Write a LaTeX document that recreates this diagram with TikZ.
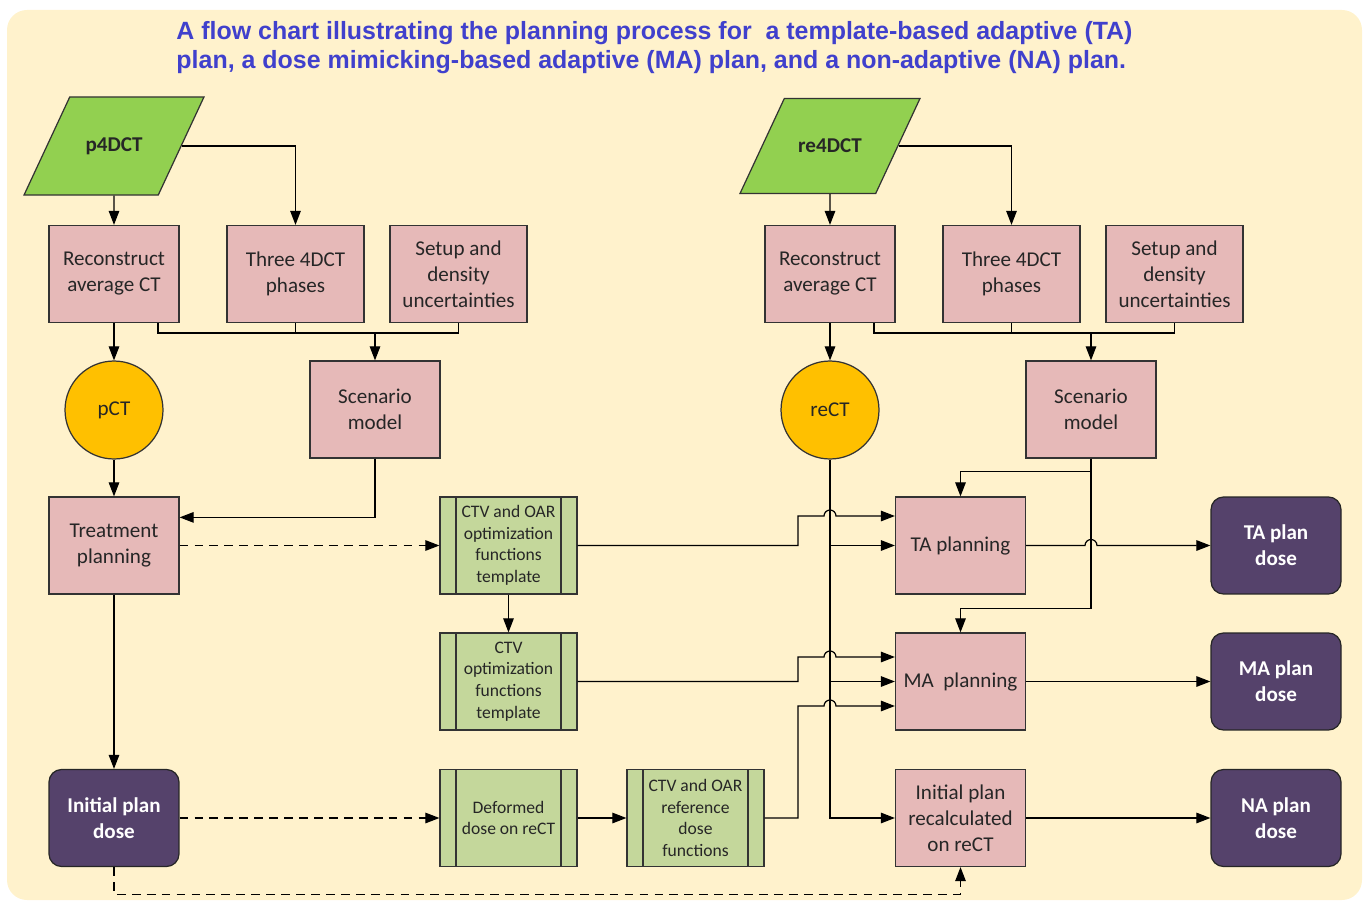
\documentclass[tikz,border=0pt]{standalone}
\usepackage{fontspec}
\setmainfont{Carlito}
\newfontfamily\headfont{Liberation Sans}
\usetikzlibrary{arrows.meta,shapes.geometric}

\definecolor{cream}{RGB}{255,242,204}
\definecolor{pinkbox}{RGB}{230,185,184}
\definecolor{greenbox}{RGB}{196,215,155}
\definecolor{inputgreen}{RGB}{146,208,80}
\definecolor{ctgold}{RGB}{255,192,0}
\definecolor{dosepurple}{RGB}{85,66,107}
\definecolor{titleblue}{RGB}{64,64,204}

\begin{document}
\begin{tikzpicture}[x=0.02cm, y=-0.02cm, >={Triangle[length=8pt,width=6pt]}, line width=0.7pt,
	every node/.style={font=\fontsize{12}{14.8}\selectfont, text=black!85, align=center},
	stepbox/.style={draw=black!80, fill=pinkbox, minimum width=2.6cm, minimum height=1.94cm, inner sep=1pt},
	widebox/.style={stepbox, minimum width=2.74cm},
	tmplbox/.style={draw=black!80, fill=greenbox, minimum width=2.74cm, minimum height=1.94cm, inner sep=1pt,
		font=\fontsize{10}{12.3}\selectfont,
		path picture={\draw[line width=0.7pt]
			([xshift=0.32cm]path picture bounding box.north west) -- ([xshift=0.32cm]path picture bounding box.south west)
			([xshift=-0.32cm]path picture bounding box.north east) -- ([xshift=-0.32cm]path picture bounding box.south east);}},
	inbox/.style={trapezium, trapezium left angle=65, trapezium right angle=115, trapezium stretches body,
		draw=black!80, fill=inputgreen, minimum width=3.6cm, inner xsep=2pt, inner ysep=0.81cm,
		font=\bfseries\fontsize{12}{14.8}\selectfont},
	ctnode/.style={circle, draw=black!80, fill=ctgold, minimum size=1.96cm, inner sep=0pt},
	dosebox/.style={rounded corners=0.25cm, draw=black!85, fill=dosepurple, text=white, minimum width=2.6cm,
		minimum height=1.94cm, font=\bfseries\fontsize{12}{14.8}\selectfont},
	hop/.style={insert path={arc[start angle=180, end angle=0, radius=0.12cm]}},
	dashline/.style={dash pattern=on 5pt off 3.5pt}]
	\useasboundingbox (0,0) rectangle (1365,902);
	\fill[cream, rounded corners=0.4cm] (7,10) rectangle (1362,900);
	\node[font=\headfont\bfseries\fontsize{14.2}{16.5}\selectfont, text=titleblue, align=left, anchor=north west] (title) at (170,15)
		{A flow chart illustrating the planning process for\ \ a template-based adaptive (TA)\\
		 plan, a dose mimicking-based adaptive (MA) plan, and a non-adaptive (NA) plan.};
	% planning CT side
	\node[inbox]   (p4dct)  at (114,146)   {p4DCT};
	\node[stepbox] (recA)   at (114,274)   {Reconstruct\\average CT};
	\node[widebox] (phaseA) at (295.5,274) {Three 4DCT\\phases};
	\node[widebox] (setupA) at (458.5,274) {Setup and\\density\\uncertainties};
	\node[stepbox] (scenA)  at (375,409.5) {Scenario\\model};
	\node[ctnode]  (pct)    at (114,410)   {pCT};
	\node[stepbox] (treat)  at (114,545.5) {Treatment\\planning};
	\node[dosebox] (initdose) at (114,818) {Initial plan\\dose};
	\node[tmplbox] (tmplA)  at (508.5,545.5) {CTV and OAR\\optimization\\functions\\template};
	\node[tmplbox] (tmplB)  at (508.5,681.5) {CTV\\optimization\\functions\\template};
	\node[tmplbox] (deform) at (508.5,818)   {Deformed\\dose on reCT};
	\node[tmplbox] (refdose) at (695.5,818)  {CTV and OAR\\reference\\dose\\functions};
	% repeat CT side
	\node[inbox]   (re4dct) at (830,146)    {re4DCT};
	\node[stepbox] (recB)   at (830,274)    {Reconstruct\\average CT};
	\node[widebox] (phaseB) at (1011.5,274) {Three 4DCT\\phases};
	\node[widebox] (setupB) at (1174.5,274) {Setup and\\density\\uncertainties};
	\node[stepbox] (scenB)  at (1091,409.5) {Scenario\\model};
	\node[ctnode]  (rect)   at (830,410)    {reCT};
	\node[stepbox] (taplan) at (960.5,545.5) {TA planning};
	\node[stepbox] (maplan) at (960.5,681.5) {MA\ \ planning};
	\node[stepbox] (naplan) at (960.5,818)   {Initial plan\\recalculated\\on reCT};
	\node[dosebox] (tadose) at (1276,545.5) {TA plan\\dose};
	\node[dosebox] (madose) at (1276,681.5) {MA plan\\dose};
	\node[dosebox] (nadose) at (1276,818)   {NA plan\\dose};
	\coordinate (busA) at (375,333);
	\coordinate (busB) at (1091,333);
	\coordinate (jog)  at (798,0);
	\coordinate (taIn) at ([yshift=0.59cm]taplan.west);
	\coordinate (maIn) at ([yshift=0.49cm]maplan.west);
	\coordinate (mbIn) at ([yshift=-0.49cm]maplan.west);
	% left connectors
	\draw[->] (p4dct) -- (recA);
	\draw[->] (p4dct.east) -| (phaseA);
	\draw ([xshift=0.88cm]recA.south) |- (busA) -| (setupA.south);
	\draw (phaseA.south) -- (phaseA.south |- busA);
	\draw[->] (busA) -- (scenA);
	\draw[->] (recA) -- (pct);
	\draw[->] (pct) -- (treat);
	\draw[->] (scenA) |- ([yshift=-0.42cm]treat.north east);
	\draw[->, dashline] (treat) -- (tmplA);
	\draw[->] (treat) -- (initdose);
	\draw[->] (tmplA) -- (tmplB);
	\draw[->, dashline] (initdose) -- (deform);
	\draw[->] (deform) -- (refdose);
	\draw[->, dashline] (initdose.south) -- ++(0,27) -| (naplan.south);
	% right connectors
	\draw[->] (re4dct) -- (recB);
	\draw[->] (re4dct.east) -| (phaseB);
	\draw ([xshift=0.88cm]recB.south) |- (busB) -| (setupB.south);
	\draw (phaseB.south) -- (phaseB.south |- busB);
	\draw[->] (busB) -- (scenB);
	\draw[->] (recB) -- (rect);
	\draw[->] (rect) |- (naplan);
	\draw[->] (rect |- taplan) -- (taplan);
	\draw[->] (rect |- maplan) -- (maplan);
	\draw[->] (scenB.south) -- ++(0,13) -| (taplan.north);
	\draw[->] (scenB.south) -- ++(0,150) -| (maplan.north);
	\draw[->] (tmplA) -- (tmplA -| jog) |- ([xshift=-0.12cm]taIn -| rect) [hop] -- (taIn);
	\draw[->] (tmplB) -- (tmplB -| jog) |- ([xshift=-0.12cm]maIn -| rect) [hop] -- (maIn);
	\draw[->] (refdose) -- (refdose -| jog) |- ([xshift=-0.12cm]mbIn -| rect) [hop] -- (mbIn);
	\draw[->] (taplan) -- ([xshift=-0.12cm]taplan -| scenB) [hop] -- (tadose);
	\draw[->] (maplan) -- (madose);
	\draw[->] (naplan) -- (nadose);
\end{tikzpicture}
\end{document}
